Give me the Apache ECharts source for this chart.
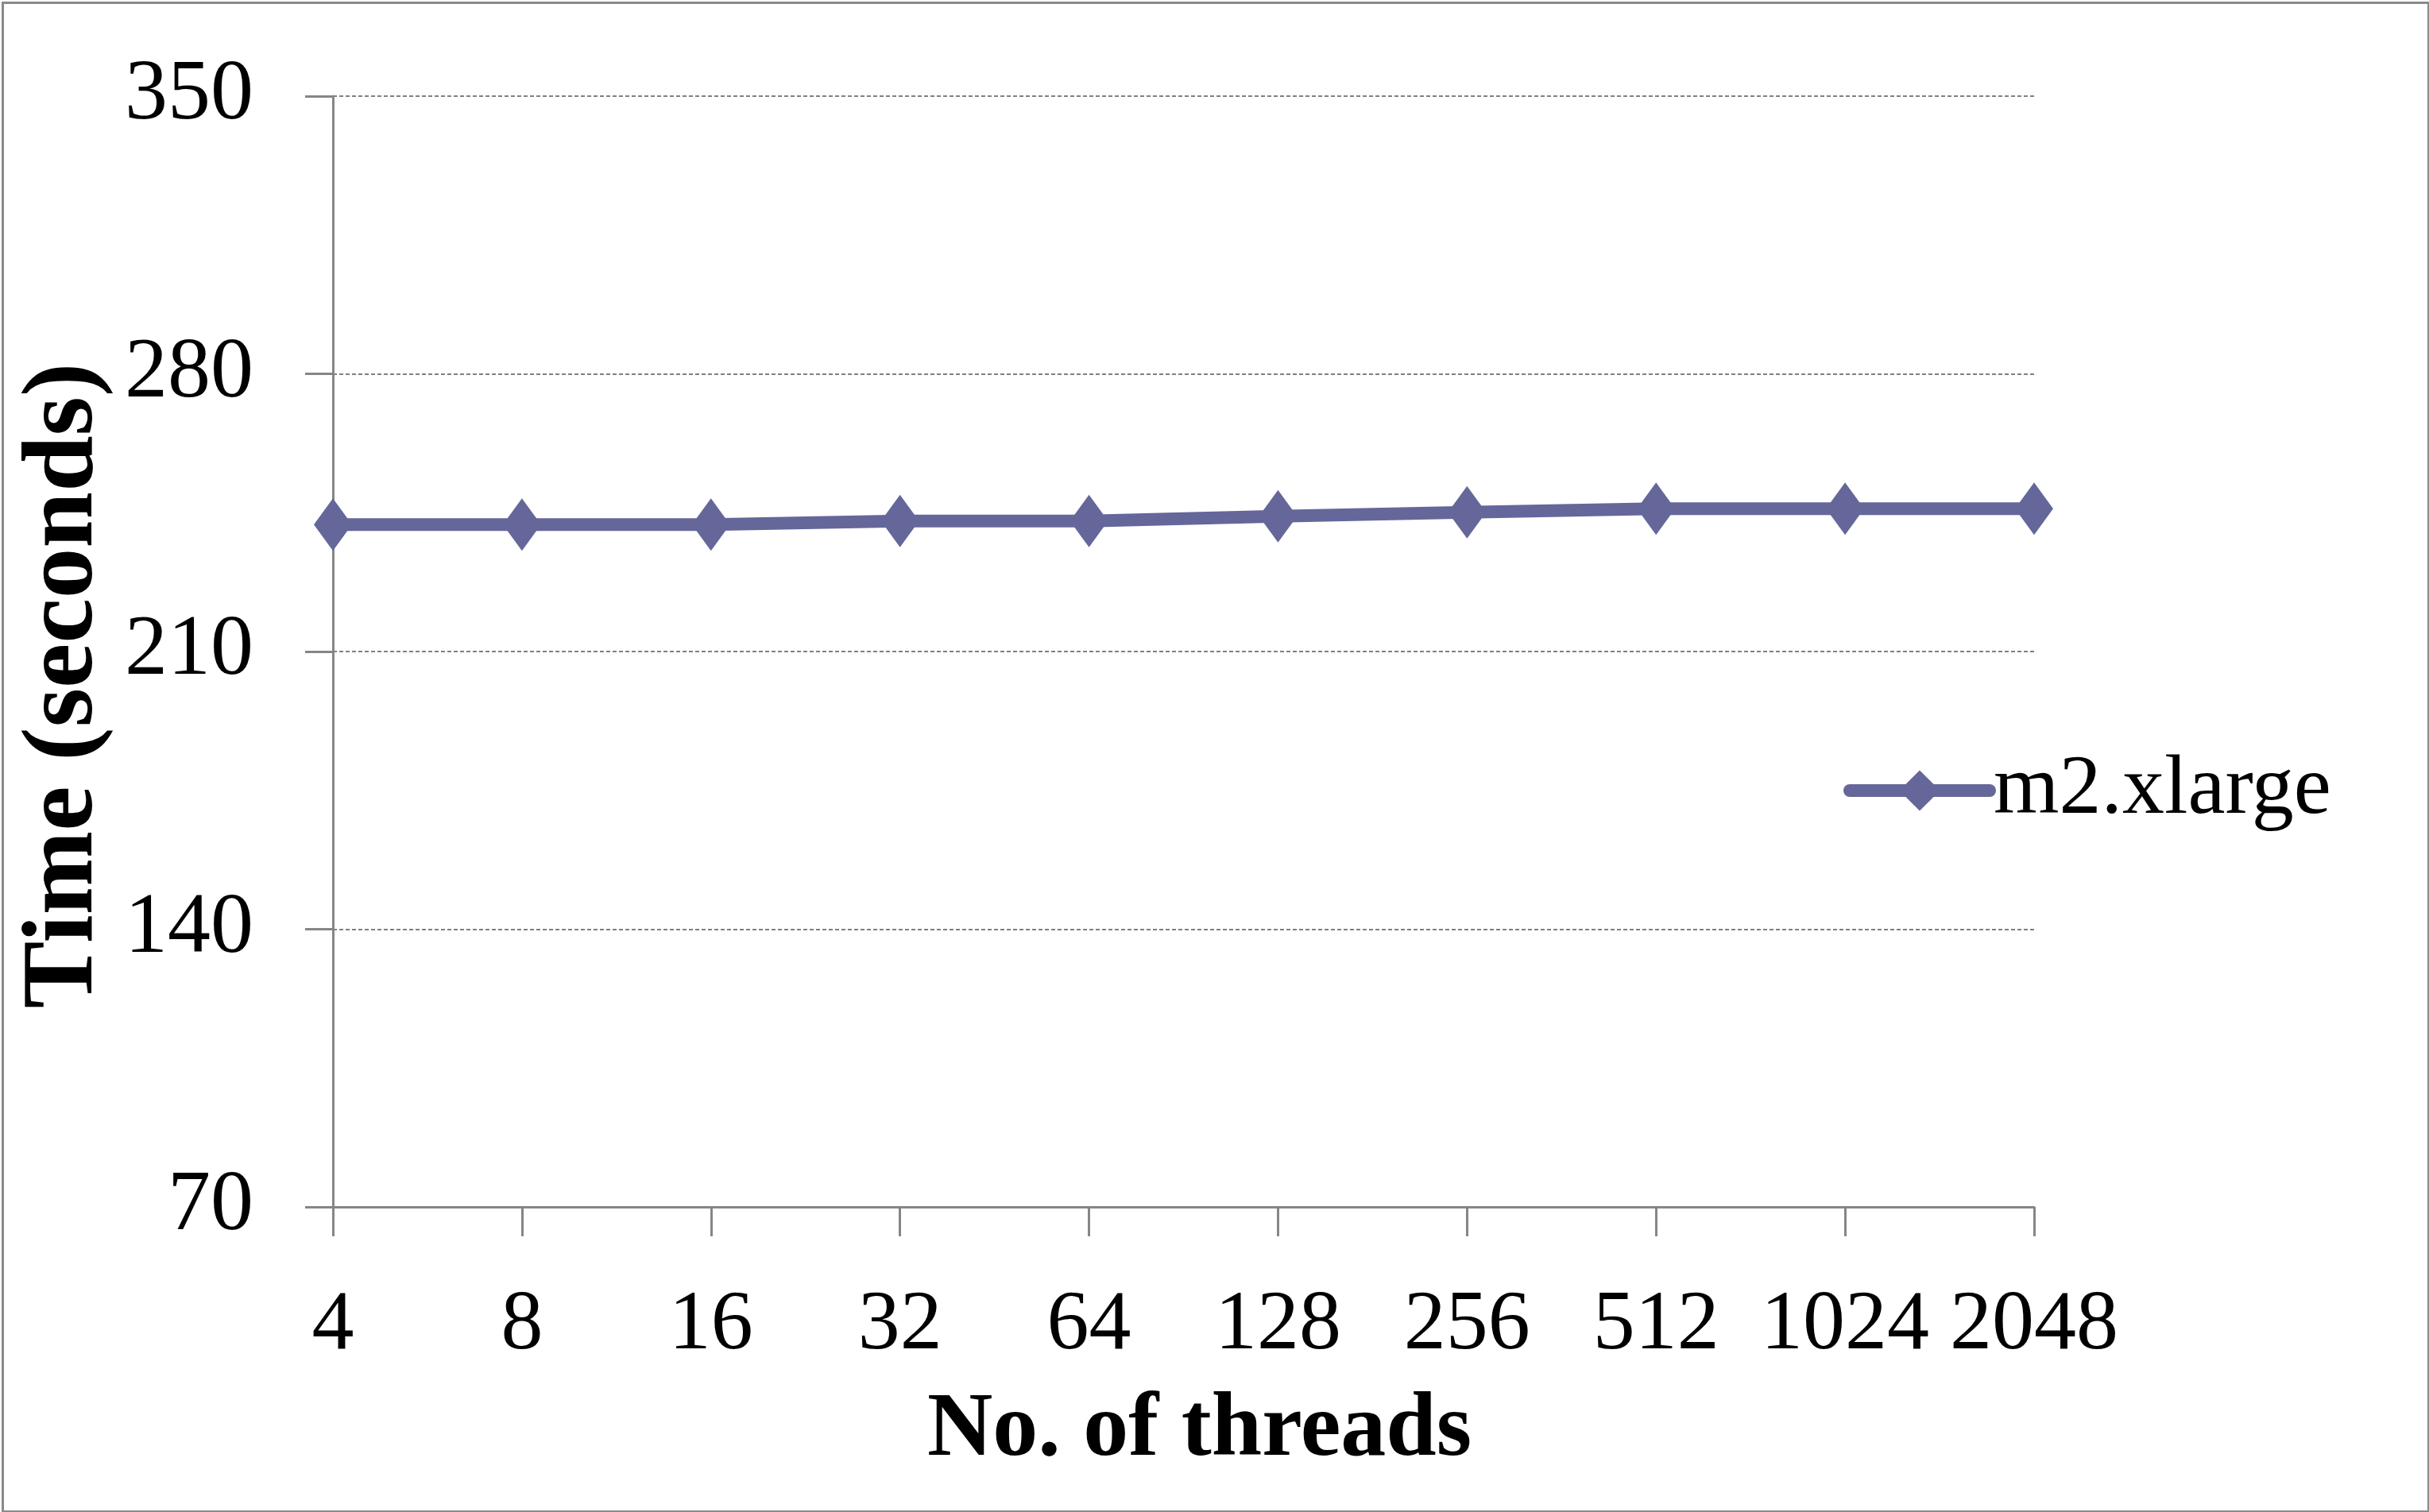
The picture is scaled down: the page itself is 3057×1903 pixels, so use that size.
<!DOCTYPE html>
<html>
<head>
<meta charset="utf-8">
<script src="https://cdn.jsdelivr.net/npm/echarts@6/dist/echarts.min.js"></script>
<style>
html,body{margin:0;padding:0;background:#fff;}
#c{width:3057px;height:1903px;}
</style>
</head>
<body>
<div id="c"></div>
<script>
const categories = ['4','8','16','32','64','128','256','512','1024','2048'];
const seriesName = 'm2.xlarge';
const values = [242.0, 242.0, 242.0, 242.9, 242.9, 244.1, 245.1, 246.0, 246.0, 246.0];
const yMin = 70, yMax = 350, yStep = 70;
const xTitle = 'No. of threads';
const yTitle = 'Time (seconds)';

const FONT = '"Liberation Serif", "Times New Roman", serif';
const chart = echarts.init(document.getElementById('c'), null, {renderer: 'canvas'});
chart.setOption({
  animation: false,
  backgroundColor: '#ffffff',
  graphic: [{
    type: 'rect', left: 1, top: 1, z: -1,
    shape: {width: 3053, height: 1899},
    style: {fill: 'none', stroke: '#8a8a8a', lineWidth: 3}
  }],
  grid: {left: 419, right: 497, top: 121, bottom: 384, containLabel: false, outerBoundsMode: 'none'},
  legend: {
    data: [seriesName],
    left: 2320, top: 942, padding: 0,
    itemWidth: 176, itemHeight: 64,
    lineStyle: {width: 16, cap: 'round', color: '#65679A'},
    textStyle: {fontFamily: FONT, fontSize: 106, color: '#000'}
  },
  xAxis: {
    type: 'category',
    data: categories,
    boundaryGap: false,
    name: xTitle,
    nameLocation: 'middle',
    nameGap: 226,
    nameTextStyle: {fontFamily: FONT, fontSize: 114, fontWeight: 'bold', color: '#000', padding: [0, 0, 0, 40]},
    axisLine: {lineStyle: {color: '#868686', width: 3}},
    axisTick: {length: 37, lineStyle: {color: '#868686', width: 3}, alignWithLabel: true},
    axisLabel: {fontFamily: FONT, fontSize: 106, color: '#000', margin: 97, interval: 0},
    splitLine: {show: false}
  },
  yAxis: {
    type: 'value',
    min: yMin, max: yMax, interval: yStep,
    name: yTitle,
    nameLocation: 'middle',
    nameGap: 272,
    nameRotate: 90,
    nameTextStyle: {fontFamily: FONT, fontSize: 127, fontWeight: 'bold', color: '#000', padding: [0, 86, 0, 0]},
    axisLine: {show: true, lineStyle: {color: '#868686', width: 3}},
    axisTick: {show: true, length: 35, lineStyle: {color: '#868686', width: 3}},
    axisLabel: {fontFamily: FONT, fontSize: 108, color: '#000', margin: 100},
    splitLine: {show: true, lineStyle: {color: '#808080', width: 2, type: [5, 3]}}
  },
  series: [{
    name: seriesName,
    type: 'line',
    data: values,
    symbol: 'diamond',
    symbolSize: [48, 66],
    lineStyle: {color: '#65679A', width: 16, cap: 'round'},
    itemStyle: {color: '#65679A'},
    z: 5
  }]
});
</script>
</body>
</html>
